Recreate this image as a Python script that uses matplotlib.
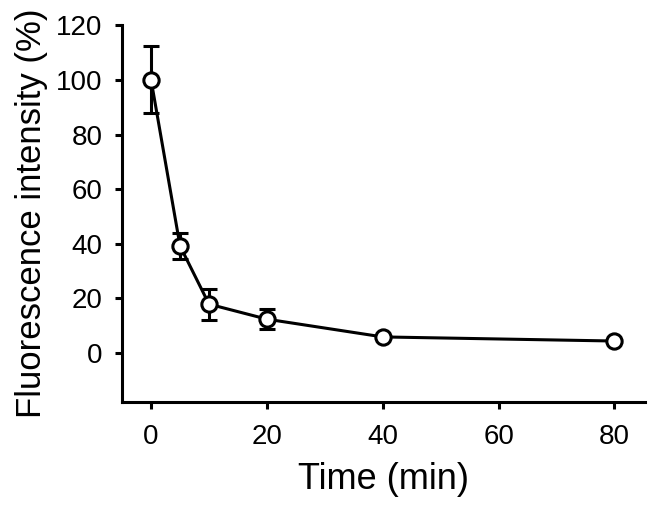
import numpy as np
import matplotlib.pyplot as plt

plt.rcParams['font.family'] = ['Liberation Sans', 'DejaVu Sans']

time_min = [0, 5, 10, 20, 40, 80]
intensity = [100, 39.2, 17.9, 12.4, 5.9, 4.4]
err = [12.3, 4.6, 5.7, 3.6, 0, 0]

fig = plt.figure(figsize=(6.53, 5.15), dpi=100)
ax = fig.add_axes([0.187, 0.219, 0.801, 0.732])

ax.errorbar(time_min, intensity, yerr=err, color='black', lw=2.2,
            marker='o', ms=11, mfc='white', mec='black', mew=2.2,
            capsize=6, capthick=2.2, elinewidth=2.2)

ax.set_xlim(-5, 85.3)
ax.set_ylim(-18, 120)
ax.set_xticks([0, 20, 40, 60, 80])
ax.set_yticks([0, 20, 40, 60, 80, 100, 120])
ax.spines['top'].set_visible(False)
ax.spines['right'].set_visible(False)
for s in ['left', 'bottom']:
    ax.spines[s].set_linewidth(2.2)
ax.tick_params(direction='out', length=5, width=2.2, labelsize=20)
ax.tick_params(axis='x', pad=11)
ax.tick_params(axis='y', pad=9)
ax.set_xlabel('Time (min)', fontsize=26, labelpad=8)
ax.set_ylabel('Fluorescence intensity (%)', fontsize=25, labelpad=6)

fig.savefig('out.png', dpi=100)
